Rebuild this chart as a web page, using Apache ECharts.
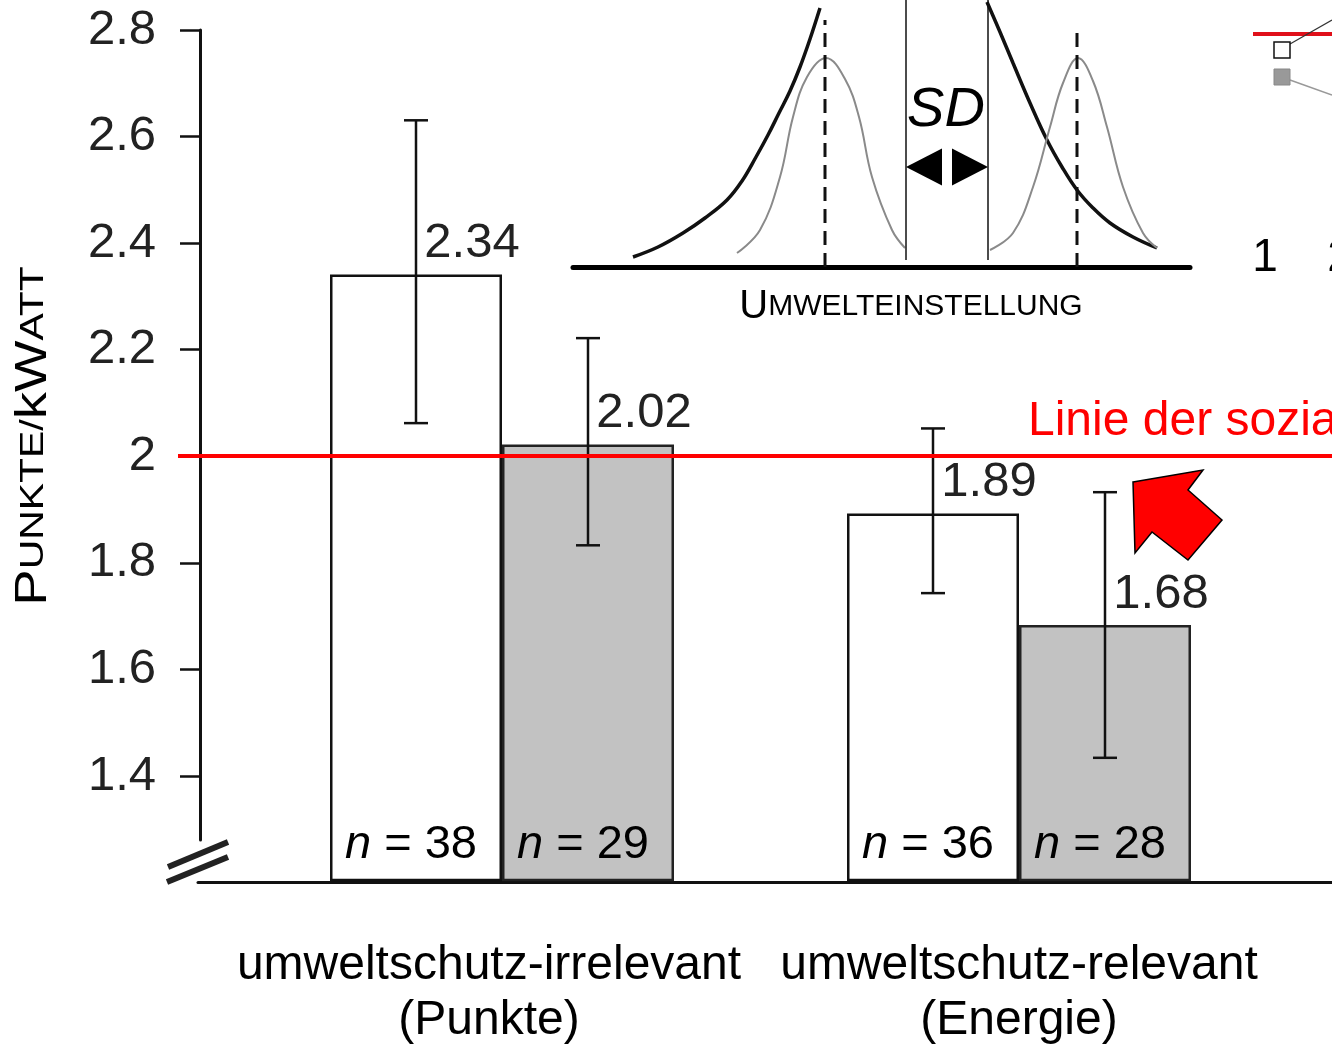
<!DOCTYPE html>
<html>
<head>
<meta charset="utf-8">
<script src="https://cdn.jsdelivr.net/npm/echarts@6/dist/echarts.min.js"></script>
<style>
  html, body { margin: 0; padding: 0; background: #fff; }
  #chart { width: 1332px; height: 1048px; }
</style>
</head>
<body>
<div id="chart"></div>
<script>
// Kategorien und Werte
const categories = ['umweltschutz-irrelevant\n(Punkte)', 'umweltschutz-relevant\n(Energie)'];
const yTicks = [1.4, 1.6, 1.8, 2.0, 2.2, 2.4, 2.6, 2.8];
const meanWhite = [2.34, 1.89];
const meanGrey = [2.02, 1.68];
const errWhite = [[2.06, 2.63], [1.74, 2.05]];
const errGrey = [[1.83, 2.22], [1.43, 1.93]];
const nWhite = [38, 36];
const nGrey = [29, 28];
const normValue = 2.0;

const thickLeft = [[633, 10], [658, 20], [683, 34], [705, 49], [727, 67], [742, 86], [756, 110], [768, 132], [779, 154], [790, 176], [800, 200], [810, 228], [820, 259]];
const thinLeft = [[737, 14], [760, 37], [780, 90], [793, 150], [807, 190], [826, 209], [845, 188], [859, 150], [872, 90], [892, 37], [905, 19]];
const thinRight = [[990, 17], [1013, 34], [1033, 80], [1050, 140], [1063, 184], [1078, 209], [1093, 186], [1107, 140], [1123, 80], [1143, 34], [1157, 19]];
const thickRight = [[987, 265], [1000, 235], [1013, 204], [1030, 164], [1047, 127], [1062, 100], [1077, 77], [1093, 59], [1110, 44], [1133, 30], [1157, 19]];
const meanLines = [[[825, 0], [825, 247]], [[1077, 0], [1077, 242]]];
const sdLines = [[[906, 7], [906, 267]], [[988, 7], [988, 267]]];
const sdArrows = [[924, 100, 90], [970, 100, -90]];

const Y_MIN = 1.2, Y_MAX = 2.8;
const BAR_W = 172, CAP = 12;
const FONT = '"Liberation Sans", Arial, sans-serif';

const chart = echarts.init(document.getElementById('chart'));

function errorItem(offset) {
  return function (params, api) {
    const c = api.value(0);
    const x = api.coord([c, api.value(1)])[0] + offset;
    const yLo = api.coord([c, api.value(1)])[1];
    const yHi = api.coord([c, api.value(2)])[1];
    const yBase = api.coord([c, Y_MIN])[1];
    const st = { stroke: '#111', lineWidth: 2.5 };
    return {
      type: 'group',
      children: [
        { type: 'line', shape: { x1: x, y1: yHi, x2: x, y2: yLo }, style: st },
        { type: 'line', shape: { x1: x - CAP, y1: yHi, x2: x + CAP, y2: yHi }, style: st },
        { type: 'line', shape: { x1: x - CAP, y1: yLo, x2: x + CAP, y2: yLo }, style: st },
        {
          type: 'text', x: x - 5, y: yBase - 35,
          style: {
            text: '{i|n} = ' + api.value(3),
            fontSize: 47, fontFamily: FONT, fill: '#000',
            align: 'center', verticalAlign: 'middle',
            rich: { i: { fontStyle: 'italic', fontSize: 47, fontFamily: FONT } }
          }
        }
      ]
    };
  };
}

function lineSeries(data, width, color, type, smooth) {
  return {
    type: 'line', xAxisIndex: 4, yAxisIndex: 4, data: data,
    smooth: smooth === undefined ? 0.4 : smooth,
    symbol: 'none', silent: true,
    lineStyle: { color: color, width: width, type: type || 'solid' }
  };
}

const hidden = { show: false };
const valueLabel = {
  show: true, position: 'top', offset: [56, 0], distance: 6,
  fontSize: 49, color: '#222', fontFamily: FONT,
  formatter: p => p.value.toFixed(2)
};
const catText = { fontSize: 48, lineHeight: 55, color: '#000', fontFamily: FONT };

const option = {
  animation: false,
  textStyle: { fontFamily: FONT },
  grid: [
    { left: 243.5, right: 54.5, top: 30, bottom: 166 },   // Balken
    { left: 200, right: 0, top: 30, bottom: 208 },        // y-Achse
    { left: 198, right: -20, top: 30, bottom: 166 },      // x-Grundlinie
    { left: 178, right: -20, top: 30, bottom: 166 },      // rote Linie
    { left: 573, right: 142, top: 0, bottom: 781 }        // Inset
  ],
  xAxis: [
    {
      gridIndex: 0, type: 'category', data: categories,
      axisLine: hidden, axisTick: hidden,
      axisLabel: {
        interval: 0, hideOverlap: false, margin: 58, ...catText,
        formatter: (v, i) => v.split('\n').map(s => '{c' + i + '|' + s + '}').join('\n'),
        rich: {
          c0: { ...catText, padding: [0, 26, 0, 0] },
          c1: { ...catText }
        }
      }
    },
    { gridIndex: 1, type: 'value', show: false },
    {
      gridIndex: 2, type: 'value', min: 0, max: 1,
      axisLine: { lineStyle: { color: '#111', width: 3 } },
      axisTick: hidden, axisLabel: hidden, splitLine: hidden
    },
    { gridIndex: 3, type: 'value', min: 0, max: 1, show: false },
    {
      gridIndex: 4, type: 'value', min: 573, max: 1190,
      axisLine: { lineStyle: { color: '#000', width: 5 } },
      axisTick: hidden, axisLabel: hidden, splitLine: hidden,
      name: '{u|U}{s|MWELTEINSTELLUNG}', nameLocation: 'middle', nameGap: 20,
      nameTextStyle: {
        padding: [0, 0, 0, 59], color: '#000',
        rich: {
          u: { fontSize: 40, fontFamily: FONT, color: '#000' },
          s: { fontSize: 30, fontFamily: FONT, color: '#000' }
        }
      }
    }
  ],
  yAxis: [
    { gridIndex: 0, type: 'value', min: Y_MIN, max: Y_MAX, show: false },
    {
      gridIndex: 1, type: 'value', min: 1.28, max: Y_MAX,
      axisLine: { show: true, lineStyle: { color: '#111', width: 3 } },
      axisTick: { show: true, length: 20, lineStyle: { width: 2.5, color: '#111' }, customValues: yTicks },
      axisLabel: { fontSize: 49, color: '#222', margin: 44, customValues: yTicks, fontFamily: FONT },
      splitLine: hidden
    },
    { gridIndex: 2, type: 'value', min: Y_MIN, max: Y_MAX, show: false },
    { gridIndex: 3, type: 'value', min: Y_MIN, max: Y_MAX, show: false },
    { gridIndex: 4, type: 'value', min: 0, max: 267, show: false }
  ],
  series: [
    {
      type: 'bar', xAxisIndex: 0, yAxisIndex: 0, data: meanWhite,
      barWidth: BAR_W, barGap: '0%',
      itemStyle: { color: '#fff', borderColor: '#111', borderWidth: 2.5 },
      label: valueLabel
    },
    {
      type: 'bar', xAxisIndex: 0, yAxisIndex: 0, data: meanGrey,
      barWidth: BAR_W, barGap: '0%',
      itemStyle: { color: '#c2c2c2', borderColor: '#222', borderWidth: 2.5 },
      label: valueLabel
    },
    {
      type: 'custom', xAxisIndex: 0, yAxisIndex: 0, z: 5, clip: false,
      renderItem: errorItem(-BAR_W / 2),
      encode: { x: 0, y: [1, 2] },
      data: errWhite.map((e, i) => [i, e[0], e[1], nWhite[i]])
    },
    {
      type: 'custom', xAxisIndex: 0, yAxisIndex: 0, z: 5, clip: false,
      renderItem: errorItem(BAR_W / 2),
      encode: { x: 0, y: [1, 2] },
      data: errGrey.map((e, i) => [i, e[0], e[1], nGrey[i]])
    },
    {
      type: 'line', xAxisIndex: 3, yAxisIndex: 3, z: 6, symbol: 'none', silent: true,
      data: [[0, normValue], [1, normValue]],
      lineStyle: { color: '#ff0000', width: 4 }
    },
    lineSeries(thickLeft, 3.5, '#111'),
    lineSeries(thickRight, 3.5, '#111'),
    lineSeries(thinLeft, 2, '#8a8a8a'),
    lineSeries(thinRight, 2, '#8a8a8a'),
    lineSeries(meanLines[0], 3, '#111', [14, 8], false),
    lineSeries(meanLines[1], 3, '#111', [14, 8], false),
    lineSeries(sdLines[0], 1.5, '#111', 'solid', false),
    lineSeries(sdLines[1], 1.5, '#111', 'solid', false),
    {
      type: 'scatter', xAxisIndex: 4, yAxisIndex: 4, silent: true,
      symbol: 'triangle', symbolSize: [37, 36],
      symbolRotate: v => v[2],
      itemStyle: { color: '#000', opacity: 1 },
      data: sdArrows
    }
  ],
  graphic: [
    // Achsenbruch
    { type: 'line', shape: { x1: 168, y1: 867, x2: 228, y2: 842 }, style: { stroke: '#222', lineWidth: 6 } },
    { type: 'line', shape: { x1: 167, y1: 882, x2: 228, y2: 857 }, style: { stroke: '#222', lineWidth: 6 } },
    // y-Achsentitel
    {
      type: 'text', x: 34, y: 436, rotation: Math.PI / 2, scaleX: 1.24,
      style: {
        text: '{b|P}{s|UNKTE/}{b|k}{b|W}{s|ATT}',
        align: 'center', verticalAlign: 'middle', fill: '#000',
        rich: {
          b: { fontSize: 44, fontFamily: FONT, fill: '#000' },
          s: { fontSize: 33, fontFamily: FONT, fill: '#000' }
        }
      }
    },
    // SD
    {
      type: 'text', x: 946, y: 110,
      style: { text: 'SD', fontSize: 56, fontStyle: 'italic', fontFamily: FONT, fill: '#000', align: 'center', verticalAlign: 'middle' }
    },
    // Beschriftung rote Linie
    {
      type: 'text', x: 1028, y: 422,
      style: { text: 'Linie der sozialen Norm', fontSize: 48, fontFamily: FONT, fill: '#ff0000', align: 'left', verticalAlign: 'middle' }
    },
    // roter Pfeil
    {
      type: 'polygon', z: 10,
      shape: { points: [[1133, 482], [1203, 470], [1188, 490], [1222, 520], [1188, 560], [1152, 532], [1135, 553]] },
      style: { fill: '#ff0000', stroke: '#000', lineWidth: 1.5 }
    },
    // angeschnittenes Nachbardiagramm
    { type: 'line', shape: { x1: 1253, y1: 34, x2: 1332, y2: 34 }, style: { stroke: '#e0101a', lineWidth: 4 } },
    { type: 'line', shape: { x1: 1290, y1: 44, x2: 1332, y2: 20 }, style: { stroke: '#333', lineWidth: 1.2 } },
    { type: 'line', shape: { x1: 1290, y1: 80, x2: 1332, y2: 95 }, style: { stroke: '#999', lineWidth: 1.5 } },
    { type: 'rect', shape: { x: 1274, y: 42, width: 16, height: 16 }, style: { fill: '#fff', stroke: '#111', lineWidth: 1.5 } },
    { type: 'rect', shape: { x: 1274, y: 69, width: 16, height: 16 }, style: { fill: '#999', stroke: '#888', lineWidth: 1 } },
    { type: 'text', x: 1265, y: 258, style: { text: '1', fontSize: 46, fontFamily: FONT, fill: '#000', align: 'center', verticalAlign: 'middle' } },
    { type: 'text', x: 1340, y: 258, style: { text: '2', fontSize: 46, fontFamily: FONT, fill: '#000', align: 'center', verticalAlign: 'middle' } }
  ]
};

chart.setOption(option);
</script>
</body>
</html>
